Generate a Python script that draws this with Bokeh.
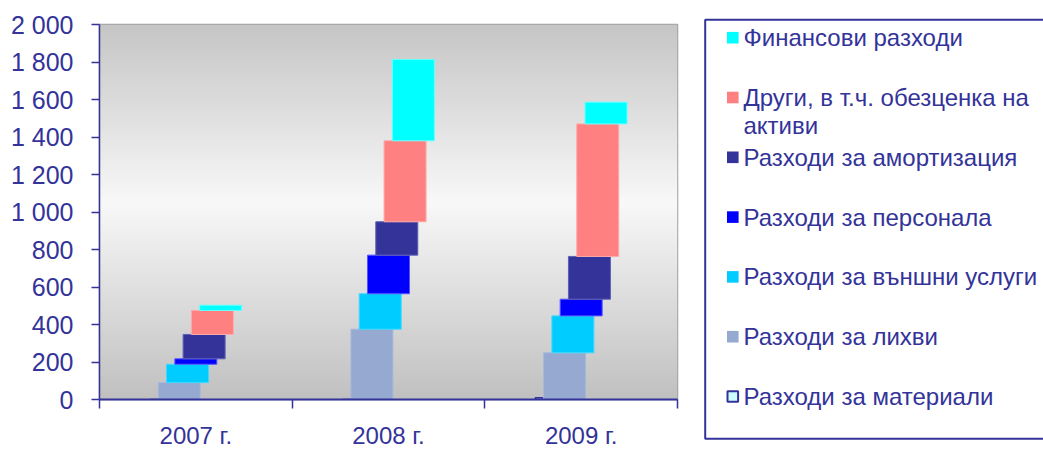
import numpy as np
from bokeh.plotting import figure
from bokeh.models import Range1d, FixedTicker, ColumnDataSource
from bokeh.embed import file_html
from bokeh.resources import INLINE

# ---------------- data ----------------
years = ["2007 г.", "2008 г.", "2009 г."]
series_names = [
    "Разходи за материали",
    "Разходи за лихви",
    "Разходи за външни услуги",
    "Разходи за персонала",
    "Разходи за амортизация",
    "Други, в т.ч. обезценка на\nактиви",
    "Финансови разходи",
]
materials = [0, 0, 10]
interest = [90, 375, 249]
external_services = [98, 189, 197]
personnel = [29, 206, 89]
amortization = [130, 178, 228]
other = [128, 432, 707]
financial = [28, 433, 116]
y_ticks = [0, 200, 400, 600, 800, 1000, 1200, 1400, 1600, 1800, 2000]

cascade = [interest, external_services, personnel, amortization, other, financial]

# ---------------- style ----------------
FONT = "Liberation Sans"
TXT = "#333399"
fills = ["#CCFFFF", "#95A9D1", "#00CCFF", "#0000FF", "#333399", "#FF8080", "#00FFFF"]
lines = ["#333399", "#A9B9DC", "#40D8FF", "#5555FF", "#5F5FB5", "#FFAAAA", "#66FFFF"]
bar_w = 0.218
step = 0.043

FL, FT, FW, FH = 99, 24, 578, 375   # frame placement in page pixels
W, H = 1043, 450

p = figure(frame_width=FW, frame_height=FH, x_range=Range1d(0, 3), y_range=Range1d(0, 2000),
           output_backend="svg", toolbar_location=None,
           min_border_left=FL, min_border_right=W - FL - FW,
           min_border_top=FT, min_border_bottom=H - FT - FH)
p.background_fill_color = "white"
p.border_fill_color = "white"
p.outline_line_color = "#A0A0A0"
p.outline_line_width = 1.5

# gradient background of the plot area (style only)
N = 200
img = np.empty((N, 1), dtype=np.uint32)
view = img.view(dtype=np.uint8).reshape((N, 1, 4))
for k in range(N):
    v = (k + 0.5) / N * 2000
    t = min(abs(v - 1050) / 1050, 1.0)
    g = int(round(248 - 56 * t))
    view[k, 0, :3] = g
    view[k, 0, 3] = 255
p.image_rgba(image=[img], x=0, y=0, dw=3, dh=2000)

xbase = np.arange(len(years)) + 0.5

# materials bar (from zero, drawn first, partly hidden)
src0 = ColumnDataSource(dict(x=xbase - 3 * step, top=np.array(materials, float),
                             bottom=np.zeros(len(years))))
p.vbar(x="x", top="top", bottom="bottom", width=bar_w, source=src0,
       fill_color=fills[0], line_color=lines[0], line_width=1.5)

# cascade of floating bars
cum = np.zeros(len(years))
for j, vals in enumerate(cascade):
    i = j + 1
    vals = np.array(vals, dtype=float)
    bottoms = cum.copy()
    tops = cum + vals
    cum = tops
    src = ColumnDataSource(dict(x=xbase + (i - 3) * step, top=tops, bottom=bottoms))
    p.vbar(x="x", top="top", bottom="bottom", width=bar_w, source=src,
           fill_color=fills[i], line_color=lines[i], line_width=1)

# axes / grid
p.xgrid.grid_line_color = None
p.ygrid.grid_line_color = "#ADADAD"
p.ygrid.grid_line_width = 1.5

p.yaxis.ticker = FixedTicker(ticks=y_ticks)
p.yaxis.major_label_overrides = {v: f"{v:,}".replace(",", " ") for v in y_ticks}
p.yaxis.minor_tick_line_color = None
p.yaxis.major_tick_in = 0
p.yaxis.major_tick_out = 8
p.yaxis.major_tick_line_color = TXT
p.yaxis.major_tick_line_width = 1.5
p.yaxis.axis_line_color = TXT
p.yaxis.axis_line_width = 1.5
p.yaxis.major_label_standoff = 18
p.yaxis.major_label_text_font = FONT
p.yaxis.major_label_text_font_size = "25px"
p.yaxis.major_label_text_color = TXT

centers = [i + 0.5 for i in range(len(years))]
bounds = [float(i) for i in range(len(years) + 1)]
p.xaxis.ticker = FixedTicker(ticks=centers, minor_ticks=bounds)
p.xaxis.major_label_overrides = {c: y for c, y in zip(centers, years)}
p.xaxis.major_tick_line_color = None
p.xaxis.major_tick_in = 0
p.xaxis.major_tick_out = 0
p.xaxis.minor_tick_in = 0
p.xaxis.minor_tick_out = 9
p.xaxis.minor_tick_line_color = TXT
p.xaxis.minor_tick_line_width = 1.5
p.xaxis.axis_line_color = TXT
p.xaxis.axis_line_width = 2
p.xaxis.major_label_standoff = 13
p.xaxis.major_label_text_font = FONT
p.xaxis.major_label_text_font_size = "24px"
p.xaxis.major_label_text_color = TXT

# ---------------- legend (drawn in page-pixel coordinates) ----------------
p.extra_x_ranges = {"px": Range1d(FL, FL + FW)}
p.extra_y_ranges = {"px": Range1d(FT + FH, FT)}
kw = dict(x_range_name="px", y_range_name="px", level="overlay")

p.quad(left=704.7, right=W + 10, top=19.3, bottom=438.3, fill_color=None,
       line_color=TXT, line_width=2, **kw)

order = list(reversed(range(len(series_names))))
row_y0, row_dy, line_dy = 37.2, 59.8, 28.3
sq_x, txt_x, sq = 732.3, 743.0, 11.6
for k, i in enumerate(order):
    yc = row_y0 + k * row_dy
    if i == 0:
        p.rect(x=sq_x, y=yc, width=sq - 1, height=sq - 1, fill_color=fills[i],
               line_color=lines[i], line_width=2, **kw)
    else:
        p.rect(x=sq_x, y=yc, width=sq, height=sq, fill_color=fills[i],
               line_color=None, **kw)
    parts = series_names[i].split("\n")
    p.text(x=[txt_x] * len(parts), y=[yc + j * line_dy for j in range(len(parts))],
           text=parts, text_font={"value": FONT}, text_font_size={"value": "24px"},
           text_color=TXT, text_align="left", text_baseline="middle", **kw)

open("out.html", "w").write(file_html(p, INLINE))
